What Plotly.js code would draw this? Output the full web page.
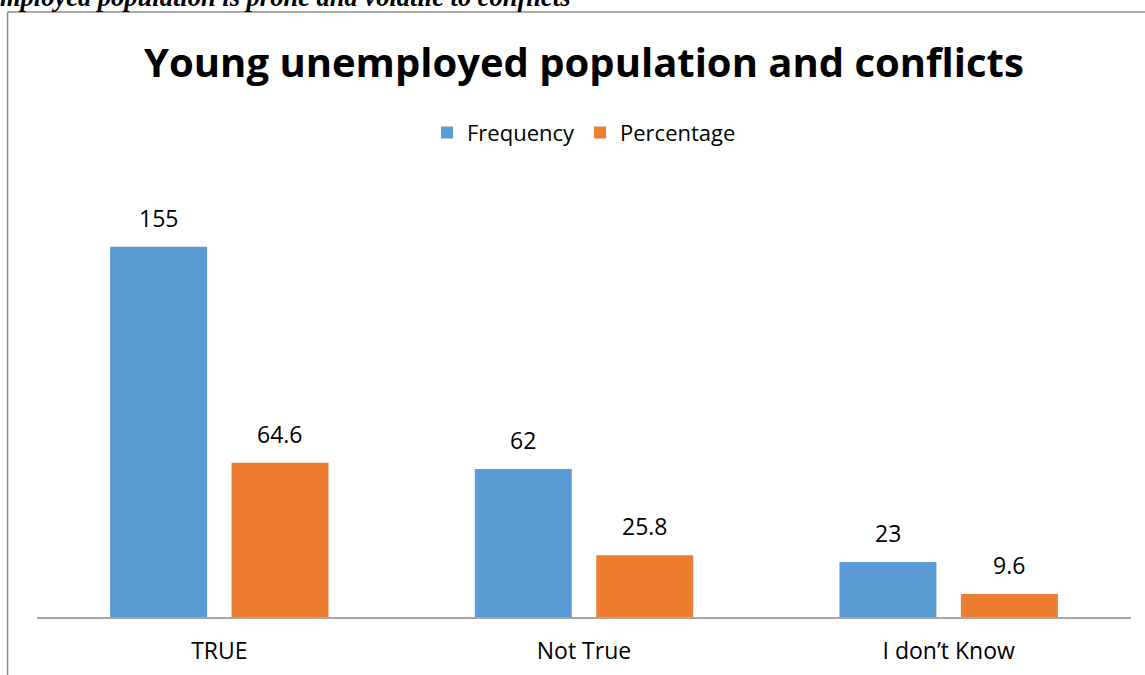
<!DOCTYPE html>
<html>
<head>
<meta charset="utf-8">
<script src="https://cdn.plot.ly/plotly-3.0.1.min.js"></script>
<style>html,body{margin:0;padding:0;background:#fff;}#chart{width:1145px;height:675px;}</style>
</head>
<body>
<div id="chart"></div>
<script>
const categories = ["TRUE", "Not True", "I don\u2019t Know"];
const frequency = [155, 62, 23];
const percentage = [64.6, 25.8, 9.6];
const seriesNames = ["Frequency", "Percentage"];
const chartTitle = "Young unemployed population and conflicts";
const captionText = "mployed population is prone and volatile to conflicts";

const colors = ["#5B9BD5", "#ED7D31"];
const FONT = "Open Sans, Lato, sans-serif";

const traces = [frequency, percentage].map((vals, i) => ({
  type: "bar",
  name: seriesNames[i],
  x: categories,
  y: vals,
  marker: {color: colors[i]},
  hoverinfo: "skip"
}));

const slot = 121.5; // px offset between grouped bars
const labelAnns = [];
[frequency, percentage].forEach((vals, i) => {
  vals.forEach((v, j) => {
    labelAnns.push({
      x: categories[j], y: v, xref: "x", yref: "y",
      text: String(v), showarrow: false,
      xshift: (i === 0 ? -1 : 1) * slot / 2,
      yanchor: "bottom", yshift: 11,
      font: {family: FONT, size: 23, color: "#000"}
    });
  });
});

labelAnns.push({
  xref: "paper", yref: "paper", x: -0.036, y: 1.402,
  xanchor: "left", yanchor: "bottom", showarrow: false,
  text: "<b><i>" + captionText + "</i></b>",
  font: {family: "Liberation Serif, serif", size: 26.5, color: "#000"}
});

const layout = {
  width: 1145, height: 675,
  margin: {l: 36.5, r: 13.5, t: 187, b: 58, pad: 0},
  paper_bgcolor: "#fff", plot_bgcolor: "#fff",
  barmode: "group", bargap: 0.334, bargroupgap: 0.2016,
  title: {
    text: chartTitle, x: 0.51, xanchor: "center", y: 0.906, yanchor: "middle",
    font: {family: FONT, size: 40, color: "#000", weight: 700}
  },
  showlegend: true,
  legend: {
    orientation: "h", x: 0.5, xanchor: "center", y: 1.126, yanchor: "middle",
    font: {family: FONT, size: 22, color: "#000"}, itemwidth: 30,
    traceorder: "normal"
  },
  xaxis: {
    showline: true, linecolor: "#A6A6A6", linewidth: 1.5,
    ticks: "", tickfont: {family: FONT, size: 23, color: "#000"},
    ticklabelstandoff: 13, showgrid: false, zeroline: false, fixedrange: true
  },
  yaxis: {
    range: [0, 180], visible: false, showgrid: false, zeroline: false, fixedrange: true
  },
  shapes: [
    {type: "line", xref: "paper", yref: "paper", x0: -0.0269, x1: -0.0269, y0: -0.3, y1: 1.407,
     line: {color: "#8C8C8C", width: 1.5}},
    {type: "line", xref: "paper", yref: "paper", x0: -0.0269, x1: 1.05, y0: 1.407, y1: 1.407,
     line: {color: "#8C8C8C", width: 1.5}}
  ],
  annotations: labelAnns
};

Plotly.newPlot("chart", traces, layout, {displayModeBar: false, staticPlot: true});
</script>
</body>
</html>
